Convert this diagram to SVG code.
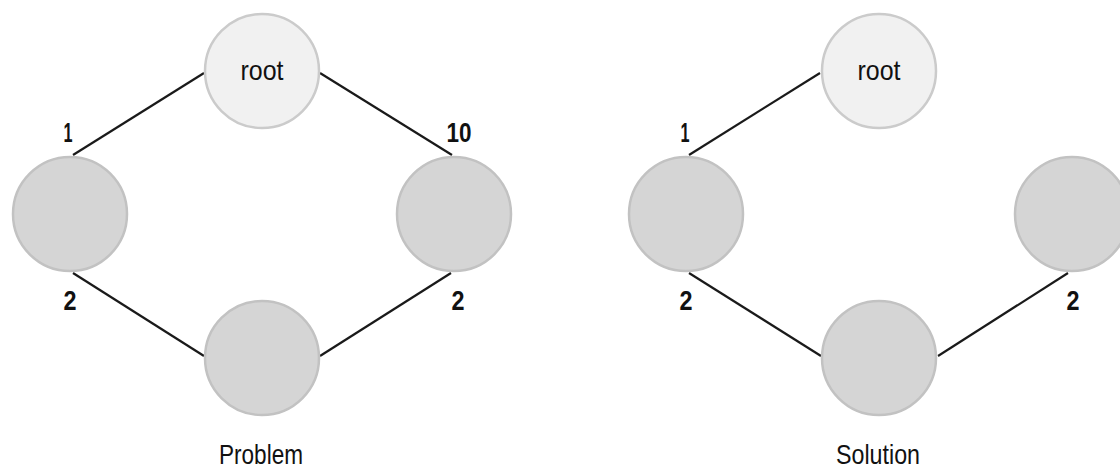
<svg xmlns="http://www.w3.org/2000/svg" width="1120" height="468" viewBox="0 0 1120 468">
<style>
.root{fill:#f1f1f1;stroke:#cbcbcb;stroke-width:2.5}
.node{fill:#d5d5d5;stroke:#c2c2c2;stroke-width:2.5}
.edge{stroke:#1a1a1a;stroke-width:2.2;fill:none}
.lbl{font-family:"Liberation Sans",Arial,sans-serif;font-size:28px;fill:#111;text-anchor:middle}
.num{font-family:"Liberation Sans",Arial,sans-serif;font-size:28px;font-weight:bold;fill:#111;text-anchor:middle}
</style>
<rect width="1120" height="468" fill="#ffffff"/>
<g id="connectors">
<line class="edge" x1="204" y1="73" x2="73" y2="155"/>
<line class="edge" x1="320" y1="73" x2="452" y2="155"/>
<line class="edge" x1="73" y1="273" x2="204" y2="356"/>
<line class="edge" x1="451" y1="273" x2="320" y2="356"/>
<line class="edge" x1="820" y1="73" x2="689" y2="155"/>
<line class="edge" x1="689" y1="273" x2="821" y2="356"/>
<line class="edge" x1="1068" y1="273" x2="938" y2="356"/>
</g>
<g id="labels">
<text class="num" x="68" y="142" textLength="9" lengthAdjust="spacingAndGlyphs">1</text>
<text class="num" x="459" y="142" textLength="25" lengthAdjust="spacingAndGlyphs">10</text>
<text class="num" x="70" y="310" textLength="13" lengthAdjust="spacingAndGlyphs">2</text>
<text class="num" x="458" y="310" textLength="13" lengthAdjust="spacingAndGlyphs">2</text>
<text class="num" x="685" y="142" textLength="9" lengthAdjust="spacingAndGlyphs">1</text>
<text class="num" x="686" y="310" textLength="13" lengthAdjust="spacingAndGlyphs">2</text>
<text class="num" x="1073" y="310" textLength="13" lengthAdjust="spacingAndGlyphs">2</text>
<text class="lbl" x="261" y="464" textLength="84" lengthAdjust="spacingAndGlyphs">Problem</text>
<text class="lbl" x="878" y="464" textLength="84" lengthAdjust="spacingAndGlyphs">Solution</text>
</g>
<g id="p-root"><circle class="root" cx="262" cy="71" r="57"/><text class="lbl" x="262" y="80" textLength="43" lengthAdjust="spacingAndGlyphs">root</text></g>
<g id="p-left"><circle class="node" cx="70" cy="214" r="57"/></g>
<g id="p-right"><circle class="node" cx="454" cy="214" r="57"/></g>
<g id="p-bottom"><circle class="node" cx="262" cy="358" r="57"/></g>
<g id="s-root"><circle class="root" cx="879" cy="71" r="57"/><text class="lbl" x="879" y="80" textLength="43" lengthAdjust="spacingAndGlyphs">root</text></g>
<g id="s-left"><circle class="node" cx="686" cy="214" r="57"/></g>
<g id="s-right"><circle class="node" cx="1072" cy="214" r="57"/></g>
<g id="s-bottom"><circle class="node" cx="879" cy="358" r="57"/></g>
</svg>
